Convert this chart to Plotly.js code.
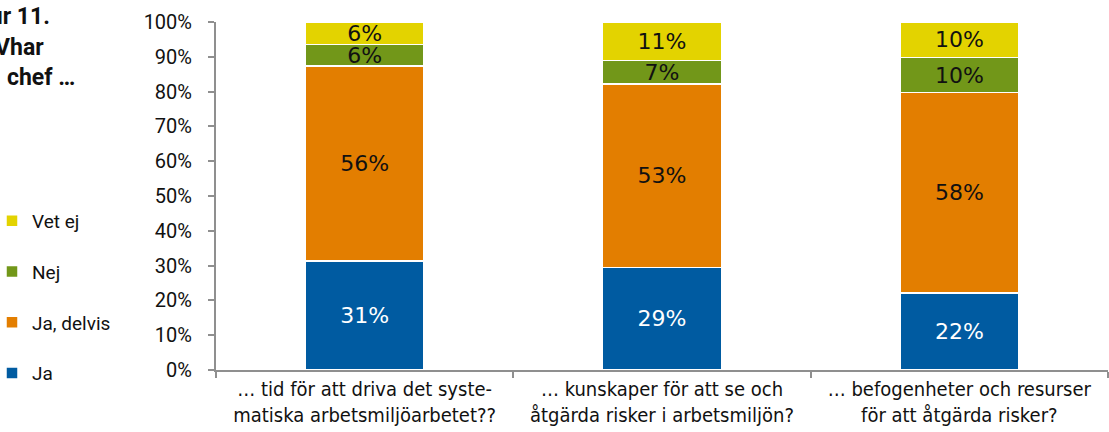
<!DOCTYPE html>
<html>
<head>
<meta charset="utf-8">
<script src="https://cdn.plot.ly/plotly-3.0.1.min.js"></script>
<style>html,body{margin:0;padding:0;background:#fff;}#chart{width:1109px;height:432px;}</style>
</head>
<body>
<div id="chart"></div>
<script>
const categories = [
  "… tid för att driva det syste-<br>matiska arbetsmiljöarbetet??",
  "… kunskaper för att se och<br>åtgärda risker i arbetsmiljön?",
  "… befogenheter och resurser<br>för att åtgärda risker?"
];
const seriesNames = ["Ja", "Ja, delvis", "Nej", "Vet ej"];
const ja       = [31.3, 29.4, 22.1];
const jaDelvis = [56.1, 52.8, 57.6];
const nej      = [6.2, 6.8, 10.1];
const vetEj    = [6.4, 11.0, 10.2];
const yTickVals = [0,10,20,30,40,50,60,70,80,90,100];
const yTickText = ["0%","10%","20%","30%","40%","50%","60%","70%","80%","90%","100%"];
const titleLines = ["Figur 11.", "Vhar", "chef …"];

const colors = ["#005BA1", "#E37E00", "#729719", "#E3D300"];
const textColors = ["#ffffff", "#111111", "#111111", "#111111"];
const values = [ja, jaDelvis, nej, vetEj];
const labelFont = "'DejaVu Sans', 'Open Sans', sans-serif";
const axisFont = "Roboto, 'Open Sans', sans-serif";

const traces = values.map((v, i) => ({
  type: "bar",
  name: seriesNames[i],
  legendgroup: "g" + i,
  legendrank: 10 - i,
  x: categories,
  y: v,
  marker: {color: colors[i], line: {color: "#ffffff", width: 1.5}},
  texttemplate: "%{y:.0f}%",
  textposition: "inside",
  insidetextanchor: "middle",
  constraintext: "none",
  textangle: 0,
  insidetextfont: {family: labelFont, size: 22, color: textColors[i]},
  hoverinfo: "skip"
}));

const axisColor = "#8f8f8f";
const layout = {
  width: 1109, height: 432,
  margin: {l: 216, r: 1, t: 22, b: 62, pad: 0},
  paper_bgcolor: "#ffffff", plot_bgcolor: "#ffffff",
  barmode: "stack",
  bargap: 0.6,
  showlegend: true,
  legend: {
    traceorder: "grouped",
    tracegroupgap: 23,
    indentation: -8,
    xref: "container", yref: "container",
    x: 0, y: 1 - 202/432, xanchor: "left", yanchor: "top",
    font: {family: axisFont, size: 19, color: "#111"},
    itemwidth: 30,
    bgcolor: "rgba(0,0,0,0)"
  },
  xaxis: {
    type: "category",
    range: [-0.5, 2.5],
    showline: true, linecolor: axisColor, linewidth: 2,
    ticks: "outside", ticklen: 6, tickwidth: 2, tickcolor: axisColor,
    tickson: "boundaries",
    showgrid: false, zeroline: false,
    tickfont: {family: "'Liberation Sans Narrow', 'DejaVu Sans Condensed', Roboto, sans-serif", size: 20, color: "#111"},
    fixedrange: true
  },
  xaxis2: {
    overlaying: "x", anchor: "y", side: "bottom",
    type: "linear", range: [-0.5, 2.5],
    tick0: -0.5, dtick: 1,
    ticks: "inside", ticklen: 6, tickwidth: 2, tickcolor: axisColor,
    showticklabels: false, showgrid: false, zeroline: false, showline: false
  },
  yaxis: {
    range: [0, 100],
    tickvals: yTickVals, ticktext: yTickText,
    showline: true, linecolor: axisColor, linewidth: 2,
    ticks: "outside", ticklen: 6, tickwidth: 2, tickcolor: axisColor,
    ticklabelstandoff: 12,
    showgrid: false, zeroline: false,
    tickfont: {family: axisFont, size: 20, color: "#111"},
    fixedrange: true
  },
  yaxis2: {
    overlaying: "y", anchor: "x", side: "left",
    range: [0, 100], tick0: 0, dtick: 10,
    ticks: "inside", ticklen: 6, tickwidth: 2, tickcolor: axisColor,
    showticklabels: false, showgrid: false, zeroline: false, showline: false
  },
  annotations: [
    {text: titleLines[0], xref: "paper", yref: "paper", x: (52-216)/892, y: (370-17)/348, xanchor: "right", yanchor: "middle", showarrow: false, font: {family: axisFont, size: 23, color: "#111", weight: "bold"}},
    {text: titleLines[1], xref: "paper", yref: "paper", x: (46-216)/892, y: (370-47)/348, xanchor: "right", yanchor: "middle", showarrow: false, font: {family: axisFont, size: 23, color: "#111", weight: "bold"}},
    {text: titleLines[2], xref: "paper", yref: "paper", x: (77-216)/892, y: (370-77)/348, xanchor: "right", yanchor: "middle", showarrow: false, font: {family: axisFont, size: 23, color: "#111", weight: "bold"}}
  ]
};

Plotly.newPlot("chart", traces, layout, {displayModeBar: false, staticPlot: true});
</script>
</body>
</html>
